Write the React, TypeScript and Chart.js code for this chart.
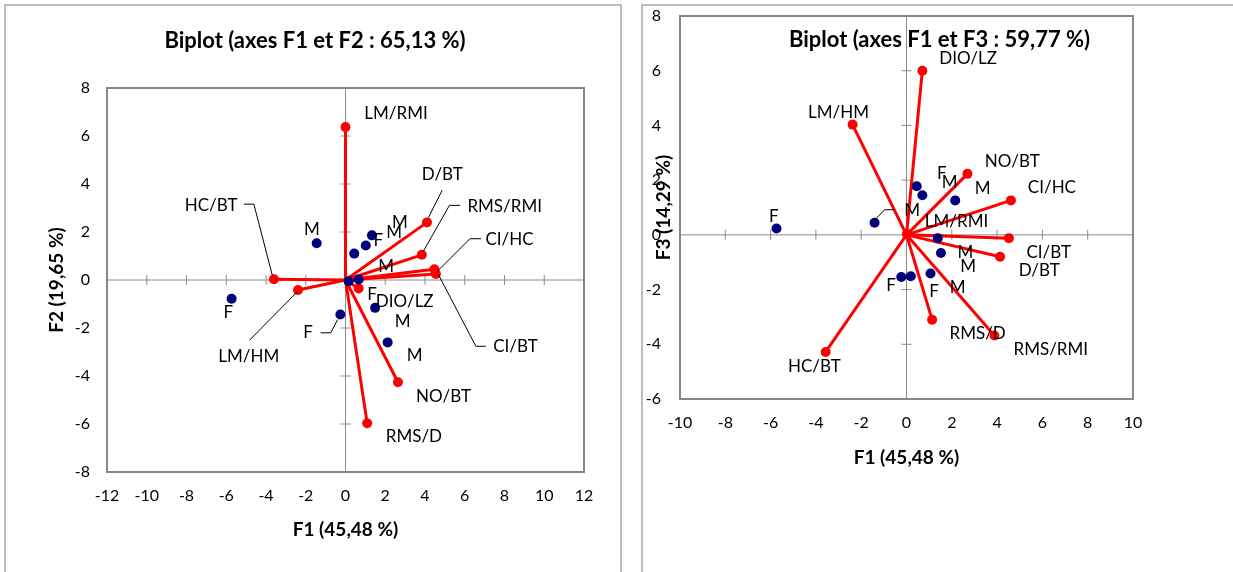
import React, { useEffect, useRef } from 'react';
import { Chart, registerables } from 'chart.js';

Chart.register(...registerables);

// ---------- DATA ----------
const variables = ['LM/RMI', 'D/BT', 'RMS/RMI', 'CI/HC', 'CI/BT', 'HC/BT', 'LM/HM', 'DIO/LZ', 'NO/BT', 'RMS/D'];

// Biplot F1 x F2
const varF1a = [0.0, 4.1, 3.84, 4.47, 4.55, -3.6, -2.39, 0.66, 2.64, 1.09];
const varF2 = [6.37, 2.4, 1.05, 0.45, 0.25, 0.03, -0.42, -0.35, -4.26, -5.97];

// Biplot F1 x F3
const varF1b = [0.02, 4.13, 3.88, 4.61, 4.52, -3.57, -2.38, 0.7, 2.69, 1.13];
const varF3 = [0.03, -0.8, -3.68, 1.26, -0.12, -4.28, 4.03, 6.0, 2.23, -3.1];

// Observations (sex)
const obsLabels = ['F', 'M', 'F', 'F', 'F', 'M', 'M', 'M', 'M', 'M'];
const obsF1a = [-5.73, -1.45, -0.26, 0.16, 0.44, 0.66, 1.02, 1.33, 1.49, 2.12];
const obsF2 = [-0.78, 1.53, -1.44, -0.05, 1.1, 0.02, 1.44, 1.86, -1.16, -2.6];
const obsF1b = [-5.74, -1.41, -0.23, 0.19, 0.45, 0.7, 1.06, 1.38, 1.52, 2.15];
const obsF3 = [0.23, 0.44, -1.54, -1.51, 1.78, 1.45, -1.41, -0.12, -0.66, 1.26];

// Axis ticks
const xTicksA = { min: -12, max: 12, step: 2 };
const yTicksA = { min: -8, max: 8, step: 2 };
const xTicksB = { min: -10, max: 10, step: 2 };
const yTicksB = { min: -6, max: 8, step: 2 };

const titleA = 'Biplot (axes F1 et F2 : 65,13 %)';
const titleB = 'Biplot (axes F1 et F3 : 59,77 %)';
const xTitle = 'F1 (45,48 %)';
const yTitleA = 'F2 (19,65 %)';
const yTitleB = 'F3 (14,29 %)';

// ---------- LABEL LAYOUT (data-space anchors of text labels) ----------
const varLabelPosA = [[2.54, 6.92], [4.87, 4.4], [8.01, 3.05], [8.25, 1.69], [8.55, -2.78], [-6.76, 3.12], [-4.87, -3.2], [2.98, -0.91], [4.93, -4.84], [3.44, -6.53]];
const obsLabelPosA = [[-5.9, -1.34], [-1.69, 2.1], [-1.89, -2.2], [1.33, -0.6], [1.65, 1.66], [2.05, 0.58], [2.45, 1.97], [2.74, 2.38], [2.88, -1.72], [3.48, -3.15]];
const leadersA = [
  [[4.87, 3.75], [4.17, 2.6]],
  [[5.77, 3.11], [5.23, 3.11], [3.92, 1.2]],
  [[6.82, 1.72], [6.26, 1.72], [4.63, 0.37]],
  [[7.06, -2.76], [6.56, -2.76], [4.67, 0.23]],
  [[-5.11, 3.16], [-4.61, 3.16], [-3.68, 0.19]],
  [[-4.83, -2.51], [-2.45, -0.51]],
  [[-1.25, -2.2], [-0.74, -2.2], [-0.4, -1.65]],
];
const varLabelPosB = [[2.21, 0.5], [5.86, -1.3], [6.37, -4.19], [6.42, 1.72], [6.28, -0.66], [-4.07, -4.8], [-3.0, 4.48], [2.72, 6.44], [4.67, 2.67], [3.14, -3.61]];
const obsLabelPosB = [[-5.86, 0.68], [0.25, 0.9], [-0.68, -1.85], [1.22, -2.06], [1.56, 2.24], [1.9, 1.92], [2.26, -1.94], [2.6, -0.66], [2.72, -1.15], [3.36, 1.69]];
const leadersB = [
  [[-0.53, 0.92], [-0.97, 0.92], [-1.41, 0.53]],
];

const FONT = 'Lato, "Open Sans", sans-serif';

const decorPlugin = {
  id: 'biplotDecor',
  beforeDatasetsDraw(chart: any, _args: any, opts: any) {
    const { ctx, chartArea: a, scales } = chart;
    const x = scales.x;
    const y = scales.y;
    const x0 = x.getPixelForValue(0);
    const y0 = y.getPixelForValue(0);
    ctx.save();
    ctx.strokeStyle = '#8c8c8c';
    ctx.lineWidth = 1;
    ctx.beginPath();
    ctx.moveTo(a.left, y0);
    ctx.lineTo(a.right, y0);
    ctx.moveTo(x0, a.top);
    ctx.lineTo(x0, a.bottom);
    x.ticks.forEach((t: any) => {
      if (t.value === 0) return;
      const px = x.getPixelForValue(t.value);
      ctx.moveTo(px, y0 - 5);
      ctx.lineTo(px, y0 + 5);
    });
    y.ticks.forEach((t: any) => {
      if (t.value === 0) return;
      const py = y.getPixelForValue(t.value);
      ctx.moveTo(x0 - 5, py);
      ctx.lineTo(x0 + 5, py);
    });
    ctx.stroke();
    ctx.strokeStyle = '#878787';
    ctx.lineWidth = 2;
    ctx.strokeRect(a.left, a.top, a.right - a.left, a.bottom - a.top);
    // title
    ctx.fillStyle = '#000';
    ctx.font = `bold ${opts.titleSize}px ${FONT}`;
    ctx.textAlign = 'center';
    ctx.textBaseline = 'middle';
    ctx.fillText(opts.title, opts.titleX, opts.titleY);
    ctx.restore();
  },
  afterDatasetsDraw(chart: any, _args: any, opts: any) {
    const { ctx, scales } = chart;
    const x = scales.x;
    const y = scales.y;
    ctx.save();
    ctx.strokeStyle = '#000';
    ctx.lineWidth = 1;
    (opts.leaders || []).forEach((pts: number[][]) => {
      ctx.beginPath();
      pts.forEach((p, i) => {
        const px = x.getPixelForValue(p[0]);
        const py = y.getPixelForValue(p[1]);
        if (i === 0) ctx.moveTo(px, py);
        else ctx.lineTo(px, py);
      });
      ctx.stroke();
    });
    ctx.fillStyle = '#000';
    ctx.font = `${opts.labelSize}px ${FONT}`;
    ctx.textAlign = 'center';
    ctx.textBaseline = 'middle';
    (opts.labels || []).forEach((l: any) => {
      ctx.fillText(l.text, x.getPixelForValue(l.x), y.getPixelForValue(l.y));
    });
    ctx.restore();
  },
};

function buildConfig(spec: any) {
  const obsData = spec.obsX.map((v: number, i: number) => ({ x: v, y: spec.obsY[i] }));
  const vecSets = variables.map((name, i) => ({
    type: 'line',
    label: name,
    data: [{ x: 0, y: 0 }, { x: spec.varX[i], y: spec.varY[i] }],
    showLine: true,
    borderColor: '#ff0000',
    borderWidth: 3,
    pointRadius: [0, 5],
    pointBackgroundColor: '#ff0000',
    pointBorderWidth: 0,
    fill: false,
  }));
  const labels = [
    ...variables.map((t, i) => ({ text: t, x: spec.varLabelPos[i][0], y: spec.varLabelPos[i][1] })),
    ...obsLabels.map((t, i) => ({ text: t, x: spec.obsLabelPos[i][0], y: spec.obsLabelPos[i][1] })),
  ];
  const tickFont = { family: FONT, size: 16 };
  const axTitleFont = { family: FONT, size: 19, weight: 'bold' };
  return {
    type: 'scatter',
    data: {
      datasets: [
        {
          type: 'scatter',
          label: 'Observations',
          data: obsData,
          pointRadius: 5,
          pointBackgroundColor: '#00007a',
          pointBorderWidth: 0,
        },
        ...vecSets,
      ],
    },
    options: {
      responsive: false,
      animation: false,
      devicePixelRatio: 1,
      layout: { padding: spec.padding },
      plugins: {
        legend: { display: false },
        tooltip: { enabled: false },
        title: { display: false },
        biplotDecor: {
          title: spec.title,
          titleX: spec.titleX,
          titleY: spec.titleY,
          titleSize: 22,
          labelSize: 17,
          labels,
          leaders: spec.leaders,
        },
      },
      scales: {
        x: {
          type: 'linear',
          min: spec.xTicks.min,
          max: spec.xTicks.max,
          ticks: { stepSize: spec.xTicks.step, font: tickFont, color: '#000', padding: spec.xTickPad, maxRotation: 0 },
          grid: { display: false, drawTicks: false },
          border: { display: false },
          title: { display: true, text: xTitle, font: axTitleFont, color: '#000', padding: { top: 0, bottom: spec.xTitlePad } },
          afterFit(s: any) {
            s.height = spec.xHeight;
            s.paddingLeft = 4;
            s.paddingRight = 4;
          },
        },
        y: {
          type: 'linear',
          min: spec.yTicks.min,
          max: spec.yTicks.max,
          ticks: { stepSize: spec.yTicks.step, font: tickFont, color: '#000', padding: spec.yTickPad },
          grid: { display: false, drawTicks: false },
          border: { display: false },
          title: { display: true, text: spec.yTitle, font: axTitleFont, color: '#000', padding: { top: spec.yTitlePad, bottom: 0 } },
          afterFit(s: any) {
            s.width = spec.yWidth;
            s.paddingTop = 4;
            s.paddingBottom = 4;
          },
        },
      },
    },
    plugins: [decorPlugin],
  };
}

function BiplotCanvas({ spec, style }: { spec: any; style: any }) {
  const ref = useRef<HTMLCanvasElement | null>(null);
  useEffect(() => {
    if (!ref.current) return;
    const chart = new Chart(ref.current, buildConfig(spec) as any);
    return () => chart.destroy();
  }, [spec]);
  return <canvas ref={ref} width={spec.w} height={spec.h} style={{ position: 'absolute', ...style }} />;
}

const specA = {
  w: 630, h: 572,
  varX: varF1a, varY: varF2, obsX: obsF1a, obsY: obsF2,
  varLabelPos: varLabelPosA, obsLabelPos: obsLabelPosA, leaders: leadersA,
  xTicks: xTicksA, yTicks: yTicksA,
  title: titleA, titleX: 315, titleY: 41,
  yTitle: yTitleA,
  padding: { left: 0, top: 88, right: 46, bottom: 20 },
  xHeight: 80, yWidth: 107,
  xTickPad: 14, yTickPad: 17, xTitlePad: 11, yTitlePad: 45,
};

const specB = {
  w: 600, h: 572,
  varX: varF1b, varY: varF3, obsX: obsF1b, obsY: obsF3,
  varLabelPos: varLabelPosB, obsLabelPos: obsLabelPosB, leaders: leadersB,
  xTicks: xTicksB, yTicks: yTicksB,
  title: titleB, titleX: 306.5, titleY: 40,
  yTitle: yTitleB,
  padding: { left: 0, top: 16, right: 100, bottom: 93 },
  xHeight: 80, yWidth: 47,
  xTickPad: 14, yTickPad: 19, xTitlePad: 10, yTitlePad: 19,
};

export default function App() {
  return (
    <div style={{ position: 'absolute', left: 0, top: 0, width: 1233, height: 572, overflow: 'hidden', background: '#fff' }}>
      <div style={{ position: 'absolute', left: 4, top: 4, width: 618, height: 700, border: '2px solid #bdbdbd', boxSizing: 'border-box' }} />
      <div style={{ position: 'absolute', left: 641, top: 4, width: 700, height: 700, border: '2px solid #bdbdbd', boxSizing: 'border-box' }} />
      <BiplotCanvas spec={specA} style={{ left: 0, top: 0 }} />
      <BiplotCanvas spec={specB} style={{ left: 633, top: 0 }} />
    </div>
  );
}
